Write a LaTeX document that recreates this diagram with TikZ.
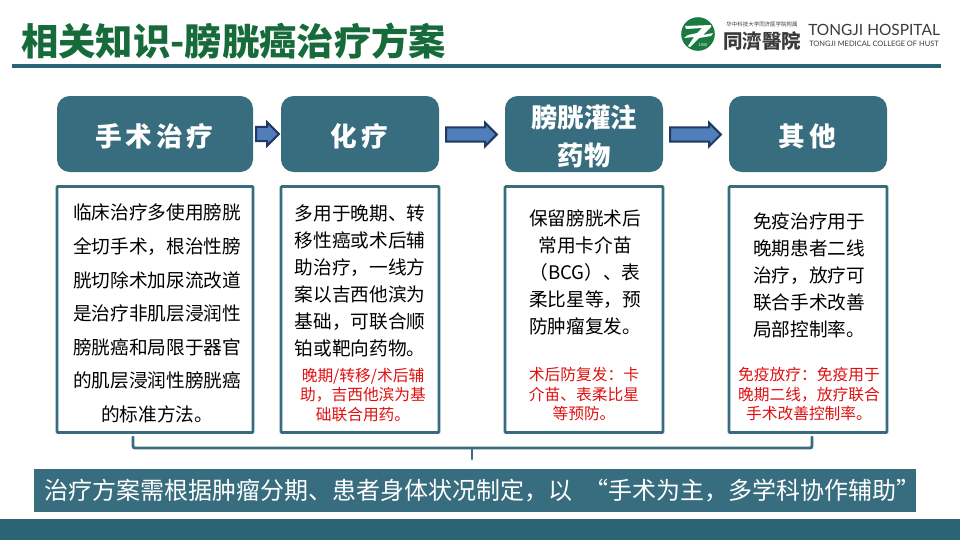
\documentclass[tikz,border=0pt]{standalone}
\usepackage{fontspec}
\usetikzlibrary{shapes.arrows,calc}
\setmainfont{Noto Sans CJK SC}
\newfontfamily\cjkwide[LetterSpace=14]{Noto Sans CJK SC}
\newfontfamily\latinlogo{Lato}
\definecolor{teal1}{HTML}{376D7E}
\definecolor{teal2}{HTML}{2A6475}
\definecolor{titlegreen}{HTML}{176B3A}
\definecolor{logogreen}{HTML}{1A7A40}
\definecolor{arrowfill}{HTML}{4F7EBB}
\definecolor{arrowline}{HTML}{1F3864}
\definecolor{redtext}{HTML}{E01010}
\definecolor{logotext}{HTML}{3A3A3A}
\tikzset{
  hdr/.style={fill=teal1,rounded corners=9.5pt,minimum height=57pt,inner sep=0pt},
  hdrtext/.style={inner sep=0pt,text=white,align=center,font=\bfseries\fontsize{19.8}{28.5}\selectfont},
  hdrwide/.style={hdrtext,font=\bfseries\cjkwide\fontsize{20}{28.5}\selectfont},
  card/.style={draw=teal1,line width=2.2pt,fill=white,rounded corners=0.8pt,inner sep=0pt},
  body/.style={inner sep=0pt,align=center,text=black,font=\fontsize{14}{20.2}\selectfont},
  note/.style={inner sep=0pt,align=center,text=redtext,font=\fontsize{11.8}{14.8}\selectfont},
  blockarrow/.style={single arrow,draw=arrowline,fill=arrowfill,line width=1.5pt,inner xsep=0pt,inner ysep=4.6pt,single arrow head extend=3.4pt,single arrow head indent=0pt},
  bracketline/.style={draw=teal1,line width=2.2pt,line join=round,line cap=round}
}
\begin{document}
\begin{tikzpicture}[x=0.75pt,y=-0.75pt]
\useasboundingbox (0,0) rectangle (960,540);
% title
\node[anchor=west,inner sep=0pt,text=titlegreen,font=\bfseries\fontsize{28}{30}\selectfont] (title) at (21,41) {相关知识-膀胱癌治疗方案};
\fill[teal2] (12,64) rectangle (941,67.5);
\fill[teal2] (0,519) rectangle (960,540);
% logo
\fill[logogreen] (698,34) circle (16.8);
\fill[white] (685,26) -- (711,25) -- (711,27) -- (703,35) -- (713,33) -- (711,36) -- (699,38) -- (690,47) -- (688,46) -- (694,37) -- (684,38) -- (688,35) -- (697,33) -- (702,28) -- (686,29) -- cycle;
\node[inner sep=0pt,text=white,font=\itshape\fontsize{3}{3}\selectfont] (logoyear) at (703,45) {1900};
\node[inner sep=0pt,text=logotext,font=\fontsize{4.1}{5}\selectfont] (logosmall) at (762,24.5) {华中科技大学同济医学院附属};
\node[inner sep=0pt,text=logotext,font=\bfseries\fontsize{14.6}{15}\selectfont] (logocn) at (762,41) {同濟醫院};
\node[anchor=west,inner sep=0pt,text=logotext,font=\latinlogo\fontsize{11.6}{12}\selectfont] (logoen) at (808,29.5) {TONGJI HOSPITAL};
\node[anchor=west,inner sep=0pt,text=logotext,font=\latinlogo\fontsize{5.6}{8}\selectfont] (logoen2) at (809,44) {TONGJI MEDICAL COLLEGE OF HUST};
% headers
\node[hdr,minimum width=147pt] (h1) at (155,134) {};
\node[hdr,minimum width=118.5pt] (h2) at (360,134) {};
\node[hdr,minimum width=118.5pt] (h3) at (584,134) {};
\node[hdr,minimum width=118.5pt] (h4) at (808,134) {};
\node[hdrwide] (h1t) at ($(h1)+(-0.5,2)$) {手术治疗};
\node[hdrwide] (h2t) at ($(h2)+(-0.5,2)$) {化疗};
\node[hdrtext] (h3t) at ($(h3)+(0,2)$) {膀胱灌注\\药物};
\node[hdrwide] (h4t) at ($(h4)+(-0.5,2)$) {其他};
% arrows
\node[blockarrow,minimum height=17pt,minimum width=16pt] (a1) at (264,134) {};
\node[blockarrow,minimum height=38pt,minimum width=17.5pt] (a2) at (468,134.5) {};
\node[blockarrow,minimum height=38pt,minimum width=17.5pt] (a3) at (692,134.5) {};
% cards
\node[card,minimum width=147pt,minimum height=184.5pt] (c1) at (155,309.5) {};
\node[card,minimum width=118.5pt,minimum height=184.5pt] (c2) at (360,309.5) {};
\node[card,minimum width=118.5pt,minimum height=184.5pt] (c3) at (584,309.5) {};
\node[card,minimum width=118.5pt,minimum height=184.5pt] (c4) at (808,309.5) {};
% body text
\node[body,font=\fontsize{14}{25.2}\selectfont] (t1) at (157,313.5) {临床治疗多使用膀胱\\全切手术，根治性膀\\胱切除术加尿流改道\\是治疗非肌层浸润性\\膀胱癌和局限于器官\\的肌层浸润性膀胱癌\\的标准方法。};
\node[body] (t2) at (360,281) {多用于晚期、转\\移性癌或术后辅\\助治疗，一线方\\案以吉西他滨为\\基础，可联合顺\\铂或靶向药物。};
\node[body] (t3) at (585,272.5) {保留膀胱术后\\常用卡介苗\\（BCG）、表\\柔比星等，预\\防肿瘤复发。};
\node[body] (t4) at (809,275.5) {免疫治疗用于\\晚期患者二线\\治疗，放疗可\\联合手术改善\\局部控制率。};
% notes
\node[note] (n2) at (363,395) {晚期/转移/术后辅\\助，吉西他滨为基\\础联合用药。};
\node[note] (n3) at (584,394) {术后防复发：卡\\介苗、表柔比星\\等预防。};
\node[note] (n4) at (809,394) {免疫放疗：免疫用于\\晚期二线，放疗联合\\手术改善控制率。};
% summary bar
\node[fill=teal1,minimum width=661.5pt,minimum height=32.5pt,inner sep=0pt] (bar) at (475,490.5) {};
\node[inner sep=0pt,text=white,anchor=west,font=\fontsize{18}{20}\selectfont] (bart) at (44,490.5) {治疗方案需根据肿瘤分期、患者身体状况制定，以\hspace{9pt}“手术为主，多学科协作辅助”};
% bracket
\coordinate (bl) at (133,437);
\coordinate (br) at (812,437);
\coordinate (bm) at (472,448);
\coordinate (bt) at (472,459);
\draw[bracketline,rounded corners=1.5pt] (bl) -- (133,448) -- (812,448) -- (br);
\draw[bracketline] (bm) -- (bt);
\end{tikzpicture}
\end{document}
